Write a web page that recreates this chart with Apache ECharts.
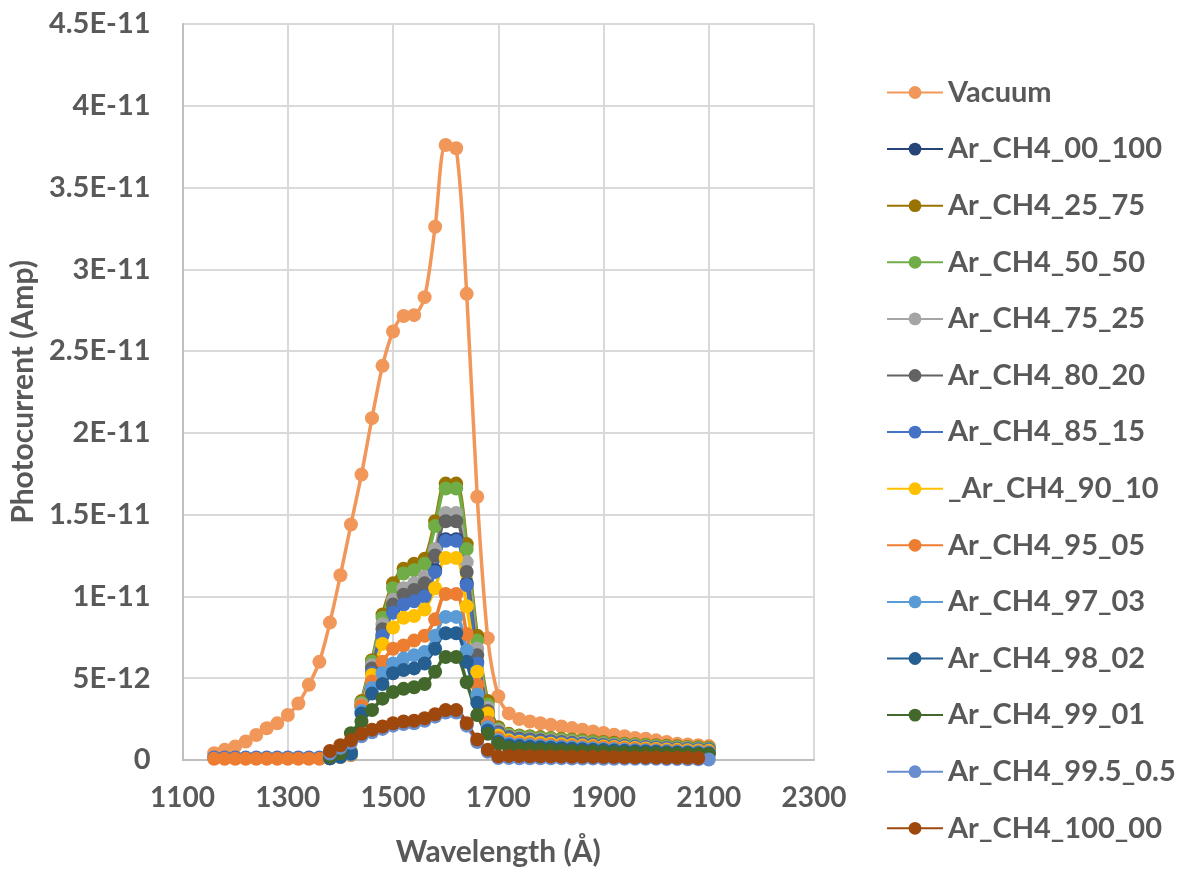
<!DOCTYPE html>
<html>
<head>
<meta charset="utf-8">
<script src="https://cdn.jsdelivr.net/npm/echarts@6.0.0/dist/echarts.min.js"></script>
<style>
  html, body { margin: 0; padding: 0; background: #ffffff; }
  #chart { width: 1178px; height: 872px; }
</style>
</head>
<body>
<div id="chart"></div>
<script>
// ---------- DATA (photocurrent in Amp) ----------
const seriesNames = ['Vacuum', 'Ar_CH4_00_100', 'Ar_CH4_25_75', 'Ar_CH4_50_50', 'Ar_CH4_75_25',
  'Ar_CH4_80_20', 'Ar_CH4_85_15', '_Ar_CH4_90_10', 'Ar_CH4_95_05', 'Ar_CH4_97_03',
  'Ar_CH4_98_02', 'Ar_CH4_99_01', 'Ar_CH4_99.5_0.5', 'Ar_CH4_100_00'];

const xTicks = [1100, 1300, 1500, 1700, 1900, 2100, 2300];
const yTickLabels = ['0', '5E-12', '1E-11', '1.5E-11', '2E-11', '2.5E-11', '3E-11', '3.5E-11', '4E-11', '4.5E-11'];

// wavelength grids (Å)
const waveFull = [1160, 1180, 1200, 1220, 1240, 1260, 1280, 1300, 1320, 1340, 1360, 1380, 1400, 1420, 1440,
  1460, 1480, 1500, 1520, 1540, 1560, 1580, 1600, 1620, 1640, 1660, 1680, 1700, 1720, 1740, 1760, 1780,
  1800, 1820, 1840, 1860, 1880, 1900, 1920, 1940, 1960, 1980, 2000, 2020, 2040, 2060, 2080, 2100];
const waveAr = [1380, 1400, 1420, 1440, 1460, 1480, 1500, 1520, 1540, 1560, 1580, 1600, 1620, 1640, 1660,
  1680, 1700, 1720, 1740, 1760, 1780, 1800, 1820, 1840, 1860, 1880, 1900, 1920, 1940, 1960, 1980, 2000,
  2020, 2040, 2060, 2080, 2100];
const waveAr100 = [1380, 1400, 1420, 1440, 1460, 1480, 1500, 1520, 1540, 1560, 1580, 1600, 1620, 1640, 1660,
  1680, 1700, 1720, 1740, 1760, 1780, 1800, 1820, 1840, 1860, 1880, 1900, 1920, 1940, 1960, 1980, 2000,
  2020, 2040, 2060, 2080];

const vacuum = [0.42e-12, 0.62e-12, 0.83e-12, 1.13e-12, 1.53e-12, 1.94e-12, 2.24e-12, 2.75e-12, 3.45e-12, 4.6e-12,
  6.0e-12, 8.4e-12, 11.3e-12, 14.4e-12, 17.45e-12, 20.9e-12, 24.1e-12, 26.2e-12, 27.15e-12, 27.2e-12, 28.3e-12,
  32.6e-12, 37.6e-12, 37.4e-12, 28.5e-12, 16.1e-12, 7.45e-12, 3.9e-12, 2.85e-12, 2.5e-12, 2.35e-12, 2.25e-12,
  2.15e-12, 2.05e-12, 1.95e-12, 1.85e-12, 1.75e-12, 1.65e-12, 1.55e-12, 1.45e-12, 1.35e-12, 1.3e-12, 1.2e-12,
  1.1e-12, 1.0e-12, 0.95e-12, 0.9e-12, 0.85e-12];
const ar00_100 = [0.12e-12, 0.22e-12, 0.38e-12, 3.3e-12, 5.8e-12, 7.7e-12, 9.1e-12, 9.6e-12, 9.8e-12, 10.1e-12,
  11.6e-12, 13.5e-12, 13.5e-12, 10.8e-12, 6.0e-12, 2.9e-12, 1.65e-12, 1.35e-12, 1.27e-12, 1.22e-12, 1.17e-12,
  1.13e-12, 1.09e-12, 1.05e-12, 1.01e-12, 0.97e-12, 0.93e-12, 0.9e-12, 0.87e-12, 0.84e-12, 0.81e-12, 0.78e-12,
  0.75e-12, 0.73e-12, 0.71e-12, 0.69e-12, 0.67e-12];
const ar25_75 = [0.2e-12, 0.3e-12, 0.5e-12, 3.6e-12, 6.1e-12, 8.9e-12, 10.8e-12, 11.7e-12, 12.0e-12, 12.3e-12,
  14.6e-12, 16.9e-12, 16.9e-12, 13.2e-12, 7.6e-12, 3.6e-12, 2.0e-12, 1.6e-12, 1.5e-12, 1.45e-12, 1.4e-12,
  1.35e-12, 1.3e-12, 1.25e-12, 1.2e-12, 1.15e-12, 1.1e-12, 1.05e-12, 1.0e-12, 0.97e-12, 0.94e-12, 0.9e-12,
  0.87e-12, 0.84e-12, 0.8e-12, 0.78e-12, 0.75e-12];
const ar50_50 = [0.15e-12, 0.25e-12, 0.45e-12, 3.5e-12, 6.0e-12, 8.7e-12, 10.5e-12, 11.4e-12, 11.6e-12, 12.0e-12,
  14.3e-12, 16.6e-12, 16.6e-12, 12.9e-12, 7.3e-12, 3.4e-12, 1.9e-12, 1.55e-12, 1.45e-12, 1.4e-12, 1.35e-12,
  1.3e-12, 1.25e-12, 1.2e-12, 1.15e-12, 1.1e-12, 1.05e-12, 1.0e-12, 0.96e-12, 0.93e-12, 0.9e-12, 0.86e-12,
  0.83e-12, 0.8e-12, 0.77e-12, 0.75e-12, 0.72e-12];
const ar75_25 = [0.15e-12, 0.25e-12, 0.4e-12, 3.4e-12, 5.8e-12, 8.3e-12, 9.8e-12, 10.5e-12, 10.8e-12, 11.2e-12,
  12.9e-12, 15.1e-12, 15.1e-12, 12.1e-12, 6.8e-12, 3.2e-12, 1.8e-12, 1.45e-12, 1.35e-12, 1.3e-12, 1.25e-12,
  1.2e-12, 1.15e-12, 1.1e-12, 1.05e-12, 1.0e-12, 0.96e-12, 0.92e-12, 0.88e-12, 0.85e-12, 0.82e-12, 0.79e-12,
  0.76e-12, 0.73e-12, 0.7e-12, 0.68e-12, 0.66e-12];
const ar80_20 = [0.15e-12, 0.25e-12, 0.4e-12, 3.3e-12, 5.6e-12, 8.0e-12, 9.5e-12, 10.1e-12, 10.4e-12, 10.8e-12,
  12.5e-12, 14.6e-12, 14.6e-12, 11.5e-12, 6.4e-12, 3.0e-12, 1.7e-12, 1.4e-12, 1.3e-12, 1.25e-12, 1.2e-12,
  1.15e-12, 1.1e-12, 1.05e-12, 1.0e-12, 0.96e-12, 0.92e-12, 0.88e-12, 0.85e-12, 0.82e-12, 0.79e-12, 0.76e-12,
  0.73e-12, 0.7e-12, 0.68e-12, 0.66e-12, 0.64e-12];
const ar85_15 = [0.15e-12, 0.15e-12, 0.15e-12, 0.15e-12, 0.15e-12, 0.15e-12, 0.15e-12, 0.15e-12, 0.15e-12, 0.15e-12,
  0.15e-12, 0.1e-12, 0.2e-12, 0.35e-12, 3.3e-12, 5.3e-12, 7.6e-12, 9.0e-12, 9.5e-12, 9.7e-12, 10.0e-12,
  11.5e-12, 13.4e-12, 13.4e-12, 10.7e-12, 5.9e-12, 2.8e-12, 1.6e-12, 1.3e-12, 1.22e-12, 1.17e-12, 1.12e-12,
  1.08e-12, 1.04e-12, 1.0e-12, 0.96e-12, 0.92e-12, 0.88e-12, 0.85e-12, 0.82e-12, 0.79e-12, 0.76e-12, 0.73e-12,
  0.7e-12, 0.68e-12, 0.66e-12, 0.64e-12, 0.62e-12];
const ar90_10 = [0.1e-12, 0.2e-12, 0.3e-12, 3.3e-12, 5.2e-12, 7.1e-12, 8.1e-12, 8.7e-12, 8.8e-12, 9.2e-12,
  10.5e-12, 12.35e-12, 12.35e-12, 9.4e-12, 5.4e-12, 2.85e-12, 1.5e-12, 1.2e-12, 1.12e-12, 1.08e-12, 1.04e-12,
  1.0e-12, 0.96e-12, 0.92e-12, 0.88e-12, 0.85e-12, 0.82e-12, 0.79e-12, 0.76e-12, 0.73e-12, 0.7e-12, 0.67e-12,
  0.64e-12, 0.62e-12, 0.6e-12, 0.58e-12, 0.56e-12];
const ar95_05 = [0.08e-12, 0.08e-12, 0.08e-12, 0.08e-12, 0.08e-12, 0.08e-12, 0.08e-12, 0.08e-12, 0.08e-12, 0.08e-12,
  0.08e-12, 0.1e-12, 0.2e-12, 0.3e-12, 3.3e-12, 4.8e-12, 6.0e-12, 6.8e-12, 7.0e-12, 7.3e-12, 7.6e-12,
  8.6e-12, 10.15e-12, 10.15e-12, 7.7e-12, 4.6e-12, 2.3e-12, 1.35e-12, 1.1e-12, 1.03e-12, 0.99e-12, 0.95e-12,
  0.91e-12, 0.88e-12, 0.85e-12, 0.82e-12, 0.79e-12, 0.76e-12, 0.73e-12, 0.7e-12, 0.67e-12, 0.64e-12, 0.61e-12,
  0.58e-12, 0.56e-12, 0.54e-12, 0.52e-12, 0.5e-12];
const ar97_03 = [0.1e-12, 0.2e-12, 0.35e-12, 3.0e-12, 4.4e-12, 5.3e-12, 5.9e-12, 6.2e-12, 6.4e-12, 6.6e-12,
  7.6e-12, 8.75e-12, 8.75e-12, 6.7e-12, 4.0e-12, 2.0e-12, 1.2e-12, 1.0e-12, 0.94e-12, 0.9e-12, 0.86e-12,
  0.83e-12, 0.8e-12, 0.77e-12, 0.74e-12, 0.71e-12, 0.68e-12, 0.65e-12, 0.62e-12, 0.6e-12, 0.58e-12, 0.55e-12,
  0.53e-12, 0.51e-12, 0.49e-12, 0.47e-12, 0.45e-12];
const ar98_02 = [0.1e-12, 0.2e-12, 0.4e-12, 2.85e-12, 4.06e-12, 4.65e-12, 5.3e-12, 5.5e-12, 5.6e-12, 5.9e-12,
  6.8e-12, 7.75e-12, 7.75e-12, 6.0e-12, 3.5e-12, 1.8e-12, 1.1e-12, 0.9e-12, 0.85e-12, 0.81e-12, 0.78e-12,
  0.75e-12, 0.72e-12, 0.69e-12, 0.66e-12, 0.63e-12, 0.61e-12, 0.58e-12, 0.56e-12, 0.54e-12, 0.52e-12, 0.5e-12,
  0.48e-12, 0.46e-12, 0.44e-12, 0.42e-12, 0.4e-12];
const ar99_01 = [0.2e-12, 0.4e-12, 1.64e-12, 2.35e-12, 3.05e-12, 3.75e-12, 4.15e-12, 4.35e-12, 4.45e-12, 4.65e-12,
  5.4e-12, 6.3e-12, 6.3e-12, 4.75e-12, 2.75e-12, 1.6e-12, 1.0e-12, 0.75e-12, 0.7e-12, 0.67e-12, 0.64e-12,
  0.61e-12, 0.58e-12, 0.56e-12, 0.54e-12, 0.52e-12, 0.5e-12, 0.48e-12, 0.46e-12, 0.44e-12, 0.43e-12, 0.42e-12,
  0.4e-12, 0.39e-12, 0.38e-12, 0.37e-12, 0.36e-12];
const ar995_05 = [0.4e-12, 0.75e-12, 1.05e-12, 1.45e-12, 1.7e-12, 1.9e-12, 2.1e-12, 2.2e-12, 2.25e-12, 2.4e-12,
  2.65e-12, 2.9e-12, 2.9e-12, 2.1e-12, 1.1e-12, 0.5e-12, 0.12e-12, 0.12e-12, 0.11e-12, 0.11e-12, 0.1e-12,
  0.1e-12, 0.1e-12, 0.09e-12, 0.09e-12, 0.09e-12, 0.08e-12, 0.08e-12, 0.08e-12, 0.07e-12, 0.07e-12, 0.07e-12,
  0.06e-12, 0.06e-12, 0.05e-12, 0.05e-12, 0.03e-12];
const ar100_00 = [0.55e-12, 0.9e-12, 1.2e-12, 1.6e-12, 1.85e-12, 2.05e-12, 2.25e-12, 2.35e-12, 2.4e-12, 2.55e-12,
  2.8e-12, 3.05e-12, 3.05e-12, 2.25e-12, 1.25e-12, 0.62e-12, 0.22e-12, 0.25e-12, 0.24e-12, 0.23e-12, 0.23e-12,
  0.22e-12, 0.21e-12, 0.2e-12, 0.2e-12, 0.19e-12, 0.18e-12, 0.18e-12, 0.17e-12, 0.16e-12, 0.16e-12, 0.15e-12,
  0.14e-12, 0.14e-12, 0.13e-12, 0.12e-12];

const seriesWaves = [waveFull, waveAr, waveAr, waveAr, waveAr, waveAr, waveFull, waveAr, waveFull, waveAr,
  waveAr, waveAr, waveAr, waveAr100];
const seriesValues = [vacuum, ar00_100, ar25_75, ar50_50, ar75_25, ar80_20, ar85_15, ar90_10, ar95_05, ar97_03,
  ar98_02, ar99_01, ar995_05, ar100_00];
const seriesColors = ['#F1975A', '#264478', '#997300', '#70AD47', '#A5A5A5', '#636363', '#4472C4', '#FFC000',
  '#ED7D31', '#5B9BD5', '#255E91', '#43682B', '#698ED0', '#9E480E'];

// ---------- CHART ----------
const FONT = 'Lato';
const TXT = '#595959';
const chart = echarts.init(document.getElementById('chart'), null, { renderer: 'canvas' });

const series = seriesNames.map((name, i) => ({
  name: name,
  type: 'line',
  data: seriesWaves[i].map((w, k) => [w, seriesValues[i][k]]),
  smooth: 0.3,
  symbol: 'circle',
  symbolSize: 14,
  showSymbol: true,
  lineStyle: { color: seriesColors[i], width: 3.5 },
  itemStyle: { color: seriesColors[i], borderWidth: 0 },
  emphasis: { disabled: true }
}));

chart.setOption({
  animation: false,
  backgroundColor: '#ffffff',
  grid: { left: 180, right: 364, top: 24, bottom: 105, containLabel: false },
  xAxis: {
    type: 'value',
    min: xTicks[0],
    max: xTicks[xTicks.length - 1],
    interval: 200,
    name: 'Wavelength (Å)',
    nameLocation: 'middle',
    nameGap: 77,
    nameTextStyle: { fontFamily: FONT, fontWeight: 'bold', fontSize: 30, color: TXT, verticalAlign: 'top' },
    axisLine: { show: true, lineStyle: { color: '#BFBFBF', width: 2 } },
    axisTick: { show: false },
    axisLabel: {
      fontFamily: FONT, fontWeight: 'bold', fontSize: 28, color: TXT, margin: 24,
      formatter: function (v) { return String(v); }
    },
    splitLine: { show: true, lineStyle: { color: '#D9D9D9', width: 2 } }
  },
  yAxis: {
    type: 'value',
    min: 0,
    max: 4.5e-11,
    interval: 5e-12,
    name: 'Photocurrent (Amp)',
    nameLocation: 'middle',
    nameGap: 134,
    nameTextStyle: { fontFamily: FONT, fontWeight: 'bold', fontSize: 30, color: TXT },
    axisLine: { show: true, lineStyle: { color: '#BFBFBF', width: 2 } },
    axisTick: { show: false },
    axisLabel: {
      fontFamily: FONT, fontWeight: 'bold', fontSize: 29, color: TXT, margin: 32,
      formatter: function (v) { return yTickLabels[Math.round(v / 5e-12)]; }
    },
    splitLine: { show: true, lineStyle: { color: '#D9D9D9', width: 2 } }
  },
  legend: {
    show: true,
    orient: 'vertical',
    left: 881,
    top: 73,
    itemWidth: 56,
    itemHeight: 16,
    itemGap: 27.6,
    textStyle: { fontFamily: FONT, fontWeight: 'bold', fontSize: 29, color: TXT, lineHeight: 27 },
    data: seriesNames
  },
  series: series
});
</script>
</body>
</html>
